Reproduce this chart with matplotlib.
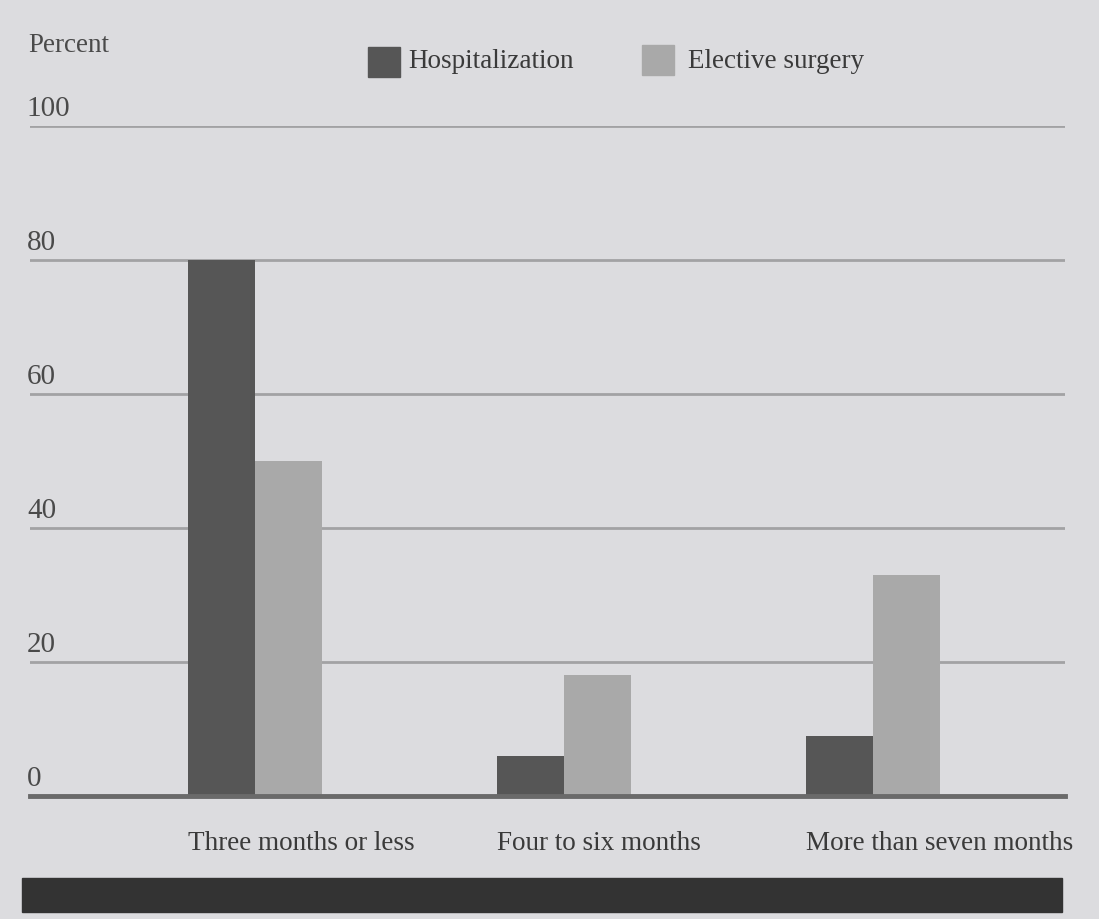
import matplotlib.pyplot as plt
import numpy as np

categories = ["Three months or less", "Four to six months", "More than seven months"]
hospitalization = [80, 6, 9]
elective = [50, 18, 33]
yticks = [0, 20, 40, 60, 80, 100]

bg = "#dcdcdf"
dark = "#565656"
light = "#a9a9a9"

plt.rcParams["font.family"] = ["Liberation Serif", "DejaVu Serif"]

fig = plt.figure(figsize=(10.99, 9.2), dpi=100, facecolor=bg)
ax = fig.add_axes([30 / 1099, 1 - 797 / 920, (1065 - 30) / 1099, (797 - 127) / 920])
ax.set_facecolor(bg)

x = np.arange(len(categories))
w = 0.217
ax.bar(x - w / 2, hospitalization, w, color=dark, zorder=3)
ax.bar(x + w / 2, elective, w, color=light, zorder=3)

ax.set_xlim(-0.728, 2.62)
ax.set_ylim(0, 100)
for y in yticks[1:]:
    ax.axhline(y, color="#a2a2a4", lw=2, zorder=1)
ax.axhline(0, color="#6a6a6a", lw=3.5, zorder=4, clip_on=False)

for s in ax.spines.values():
    s.set_visible(False)
ax.set_xticks([])
ax.set_yticks([])

# y labels sit above each gridline
for y in yticks:
    ax.text(-0.003, y + 0.8, str(y), transform=ax.get_yaxis_transform(),
            fontsize=21, color="#4a4a4a", ha="left", va="bottom")

# category labels start at the left edge of each group
for xi, c in zip(x, categories):
    ax.text(xi - w, -5, c, fontsize=19.5, color="#3a3a3a", ha="left", va="top")

fig.text(28 / 1099, 1 - 45 / 920, "Percent", fontsize=19.5, color="#4a4a4a", va="center")

# legend
fig.patches.append(plt.Rectangle((368 / 1099, 1 - 78 / 920), 32 / 1099, 30 / 920,
                                 transform=fig.transFigure, color=dark))
fig.text(408 / 1099, 1 - 62 / 920, "Hospitalization", fontsize=19.5, color="#3a3a3a", va="center")
fig.patches.append(plt.Rectangle((642 / 1099, 1 - 76 / 920), 32 / 1099, 30 / 920,
                                 transform=fig.transFigure, color=light))
fig.text(688 / 1099, 1 - 62 / 920, "Elective surgery", fontsize=19.5, color="#3a3a3a", va="center")

# thick rule at the bottom
fig.patches.append(plt.Rectangle((22 / 1099, 1 - 913 / 920), (1062 - 22) / 1099, 34 / 920,
                                 transform=fig.transFigure, color="#333333"))

fig.savefig("out.png", dpi=100, facecolor=bg)
